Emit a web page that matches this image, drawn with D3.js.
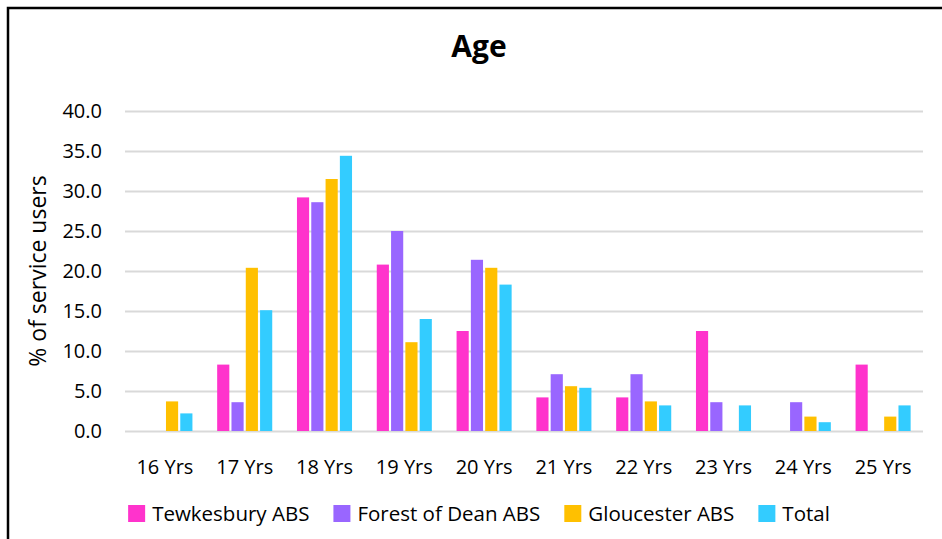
<!DOCTYPE html>
<html>
<head>
<meta charset="utf-8">
<script src="https://cdn.jsdelivr.net/npm/d3@7"></script>
<style>
  body { margin: 0; background: #fff; }
  svg { display: block; }
  text { font-family: "Open Sans", sans-serif; fill: #000; }
</style>
</head>
<body>
<div id="chart-container"></div>
<script>
// Age groups (x categories)
var categories = ["16 Yrs", "17 Yrs", "18 Yrs", "19 Yrs", "20 Yrs", "21 Yrs", "22 Yrs", "23 Yrs", "24 Yrs", "25 Yrs"];

// Series names and colours
var seriesNames = ["Tewkesbury ABS", "Forest of Dean ABS", "Gloucester ABS", "Total"];
var seriesColors = ["#ff33cc", "#9966ff", "#ffc000", "#33ccff"];

// % of service users per age, per series
var tewkesbury = [0, 8.3, 29.2, 20.8, 12.5, 4.2, 4.2, 12.5, 0, 8.3];
var forestOfDean = [0, 3.6, 28.6, 25.0, 21.4, 7.1, 7.1, 3.6, 3.6, 0];
var gloucester = [3.7, 20.4, 31.5, 11.1, 20.4, 5.6, 3.7, 0, 1.8, 1.8];
var total = [2.2, 15.1, 34.4, 14.0, 18.3, 5.4, 3.2, 3.2, 1.1, 3.2];

// Y axis ticks
var yTicks = [0, 5, 10, 15, 20, 25, 30, 35, 40];

var seriesValues = [tewkesbury, forestOfDean, gloucester, total];

var width = 942, height = 539;
var plot = { left: 125, right: 923, top: 111, bottom: 431 };

var svg = d3.select("#chart-container")
    .append("svg")
    .attr("width", width)
    .attr("height", height);

// outer frame (right and bottom edges run off the picture)
svg.append("rect")
    .attr("x", 8)
    .attr("y", 8)
    .attr("width", 1000)
    .attr("height", 600)
    .attr("fill", "none")
    .attr("stroke", "#000")
    .attr("stroke-width", 2.5);

// scales
var x0 = d3.scaleBand()
    .domain(categories)
    .range([plot.left, plot.right])
    .paddingInner(0.31)
    .paddingOuter(0.155);

var x1 = d3.scaleBand()
    .domain(seriesNames)
    .range([0, x0.bandwidth()])
    .paddingInner(0.15);

var y = d3.scaleLinear()
    .domain([0, 40])
    .range([plot.bottom, plot.top]);

// y axis with gridlines
var yAxis = svg.append("g")
    .attr("transform", "translate(" + plot.left + ",0)")
    .call(d3.axisLeft(y)
        .tickValues(yTicks)
        .tickFormat(d3.format(".1f"))
        .tickSize(-(plot.right - plot.left))
        .tickPadding(23));

yAxis.select(".domain").remove();
yAxis.selectAll(".tick line")
    .attr("stroke", "#d9d9d9")
    .attr("stroke-width", 1.8);
yAxis.selectAll(".tick text")
    .style("font-size", "20px")
    .style("font-family", "'Open Sans', sans-serif")
    .attr("fill", "#000");

// bars
var groups = svg.append("g")
    .selectAll("g")
    .data(categories)
    .enter().append("g")
    .attr("transform", function (d) { return "translate(" + x0(d) + ",0)"; });

groups.selectAll("rect")
    .data(function (d, i) {
        return seriesNames.map(function (s, j) {
            return { series: s, value: seriesValues[j][i], color: seriesColors[j] };
        });
    })
    .enter().append("rect")
    .attr("x", function (d) { return x1(d.series); })
    .attr("width", x1.bandwidth())
    .attr("y", function (d) { return y(d.value); })
    .attr("height", function (d) { return y(0) - y(d.value); })
    .attr("fill", function (d) { return d.color; });

// x axis labels
var xAxis = svg.append("g")
    .attr("transform", "translate(0," + plot.bottom + ")")
    .call(d3.axisBottom(x0).tickSize(0).tickPadding(29));

xAxis.select(".domain").remove();
xAxis.selectAll(".tick text")
    .style("font-size", "20px")
    .style("font-family", "'Open Sans', sans-serif")
    .attr("fill", "#000");

// title
svg.append("text")
    .attr("x", 479)
    .attr("y", 57)
    .attr("text-anchor", "middle")
    .style("font-size", "30px")
    .style("font-weight", "bold")
    .text("Age");

// y axis title
svg.append("text")
    .attr("transform", "translate(46,271) rotate(-90)")
    .attr("text-anchor", "middle")
    .style("font-size", "23px")
    .text("% of service users");

// legend, laid out left to right from the plot's left edge
var legend = svg.append("g");
var items = legend.selectAll("g")
    .data(seriesNames)
    .enter().append("g");

items.append("rect")
    .attr("width", 17)
    .attr("height", 17)
    .attr("y", 505)
    .attr("fill", function (d, i) { return seriesColors[i]; });

items.append("text")
    .attr("x", 24)
    .attr("y", 521)
    .style("font-size", "20.5px")
    .text(function (d) { return d; });

var pos = 0;
items.each(function () {
    var w = d3.select(this).select("text").node().getComputedTextLength();
    d3.select(this).attr("transform", "translate(" + pos + ",0)");
    pos += 24 + w + 24;
});
var legendWidth = pos - 24;
legend.attr("transform", "translate(" + (479 - legendWidth / 2) + ",0)");
</script>
</body>
</html>
